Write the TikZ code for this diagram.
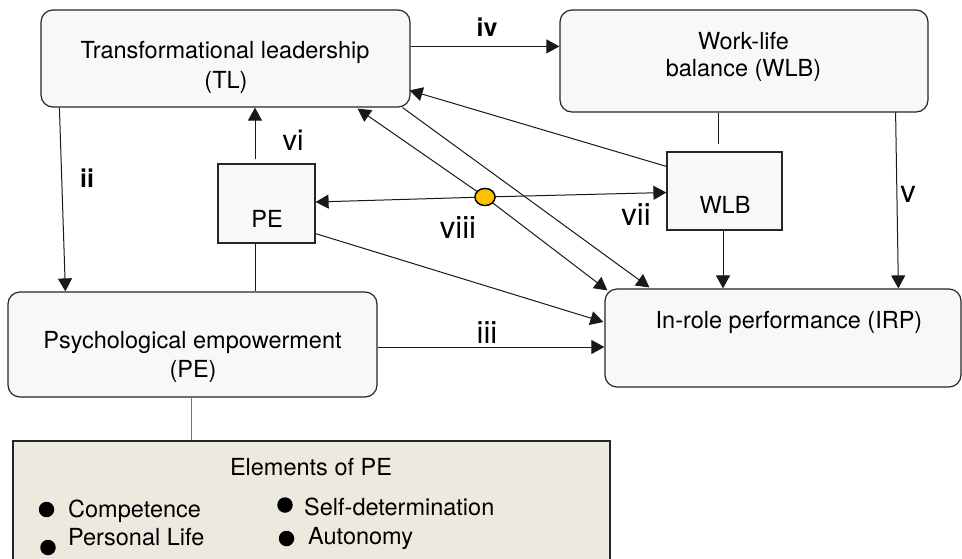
\documentclass[tikz,border=0pt]{standalone}
\usepackage{fontspec}
\setmainfont{TeX Gyre Heros}
\usetikzlibrary{arrows.meta,calc,shapes.geometric}
\definecolor{boxfill}{HTML}{F7F8FA}
\definecolor{elfill}{HTML}{ECE9DF}
\definecolor{dotc}{HTML}{FFC000}
\definecolor{linkblue}{HTML}{4A7EBB}
\begin{document}
\begin{tikzpicture}[x=1pt,y=-1pt,
  box/.style={draw=black!85, line width=1.2pt, fill=boxfill, rounded corners=12pt, inner sep=0pt},
  sbox/.style={draw=black!85, line width=1.2pt, fill=boxfill, inner sep=0pt},
  elbox/.style={draw=black!85, line width=1.2pt, fill=elfill, inner sep=0pt},
  txt/.style={anchor=base, inner sep=0pt, font=\fontsize{23.5}{28}\selectfont},
  ltxt/.style={anchor=base west, inner sep=0pt, font=\fontsize{23.5}{28}\selectfont},
  lab/.style={anchor=base, inner sep=0pt, font=\fontsize{31}{34}\selectfont},
  blab/.style={anchor=base, inner sep=0pt, font=\bfseries\fontsize{25}{28}\selectfont},
  arr/.style={draw=black!90, line width=1pt, -{Triangle[length=13pt,width=14pt]}},
  ln/.style={draw=black!90, line width=1pt},
  bullet/.style={circle, fill=black, inner sep=0pt, minimum size=15.5pt},
]
\useasboundingbox (0,0) rectangle (962,558);
\clip (0,0) rectangle (962,558);
\fill[white] (0,0) rectangle (962,558);

% boxes
\node[box, minimum width=369pt, minimum height=97pt] (TL) at (225.5,58.5) {};
\node[box, minimum width=368pt, minimum height=102pt] (WLB) at (744,61) {};
\node[sbox, minimum width=97pt, minimum height=79pt] (PEs) at (266.5,203.5) {};
\node[sbox, minimum width=115pt, minimum height=78pt] (WLBs) at (724.5,191) {};
\node[box, minimum width=369pt, minimum height=105pt] (PE) at (192.5,344.5) {};
\node[box, minimum width=356pt, minimum height=98pt] (IRP) at (783,338) {};
\node[elbox, minimum width=597pt, minimum height=129pt] (EL) at (311.5,505.5) {};

% box texts
\node[txt] (tTL1) at (225,58) {Transformational leadership};
\node[txt] (tTL2) at (226,88) {(TL)};
\node[txt] (tWLB1) at (743.5,49) {Work-life};
\node[txt] (tWLB2) at (743.5,76) {balance (WLB)};
\node[txt] (tPEs) at (267,227) {PE};
\node[txt] (tWLBs) at (725,213) {WLB};
\node[txt] (tPE1) at (192.5,348) {Psychological empowerment};
\node[txt] (tPE2) at (193,377) {(PE)};
\node[txt] (tIRP) at (789,328) {In-role performance (IRP)};
\node[txt] (tEL) at (311,475) {Elements of PE};

% elements list
\node[bullet] (b1) at (46.5,509.5) {};
\node[bullet] (b2) at (285,505) {};
\node[bullet] (b3) at (48,547.5) {};
\node[bullet] (b4) at (286.5,538.5) {};
\node[ltxt] (e1) at (68,517) {Competence};
\node[ltxt] (e2) at (304,515) {Self-determination};
\node[ltxt] (e3) at (68,545) {Personal Life};
\node[ltxt] (e4) at (308,544) {Autonomy};

% connectors
\coordinate (a1) at ($(TL.north east)+(0,37)$);
\draw[arr] (a1) -- (a1 -| WLB.west);
\draw[arr] ($(TL.south west)+(19,0)$) -- ($(PE.north west)+(58,0)$);
\coordinate (a3) at ($(PEs.north)+(-11.5,-4)$);
\draw[arr] (a3) -- (a3 |- TL.south);
\coordinate (a4) at ($(PEs.south)+(-11.5,0)$);
\draw[ln] (a4) -- (a4 |- PE.north);
\coordinate (a5) at ($(WLB.south)+(-26,0)$);
\coordinate (a5e) at ($(WLBs.north)+(-6.5,-7)$);
\draw[ln] (a5) -- (a5e);
\draw[arr] ($(WLB.south east)+(-33,0)$) -- ($(IRP.north west)+(294,0)$);
\coordinate (a7) at ($(WLBs.south)+(-1.5,0)$);
\draw[arr] (a7) -- (a7 |- IRP.north);
\draw[arr] ($(WLBs.north west)+(0,15)$) -- ($(TL.north east)+(-1,81)$);
\draw[arr] ($(TL.south east)+(-8,0)$) -- ($(IRP.north west)+(45,-1)$);
\draw[arr] ($(PEs.south east)+(0,-10)$) -- ($(IRP.west)+(-1,-16)$);
\coordinate (a13) at ($(PE.east)+(0,2.5)$);
\draw[arr] (a13) -- (a13 -| IRP.west);
\coordinate (a14) at ($(PE.south)+(-1.5,0)$);
\draw[draw=linkblue, line width=1pt] (a14) -- (a14 |- EL.north);

% dot and its arrows
\node[ellipse, draw=black, fill=dotc, line width=1.3pt, minimum width=20pt, minimum height=17pt, inner sep=0pt] (dot) at (485,197) {};
\draw[arr] (dot) -- ($(TL.south east)+(-53,1)$);
\draw[arr] (dot) -- ($(IRP.north west)+(3,2)$);
\draw[arr] (dot) -- ($(PEs.east)+(0,-1.5)$);
\draw[arr] (dot) -- ($(WLBs.west)+(0,1.5)$);
\node[ellipse, draw=black, fill=dotc, line width=1.3pt, minimum width=20pt, minimum height=17pt, inner sep=0pt] at (dot) {};

% labels
\node[blab] (liv) at (487,36) {iv};
\node[blab] (lii) at (87,187) {ii};
\node[lab, font=\fontsize{29}{32}\selectfont] (lvi) at (293,150) {vi};
\node[lab] (lviii) at (458,238) {viii};
\node[lab] (lvii) at (636,225) {vii};
\node[lab] (lv) at (908,202) {v};
\node[lab] (liii) at (487,343) {iii};
\end{tikzpicture}
\end{document}
